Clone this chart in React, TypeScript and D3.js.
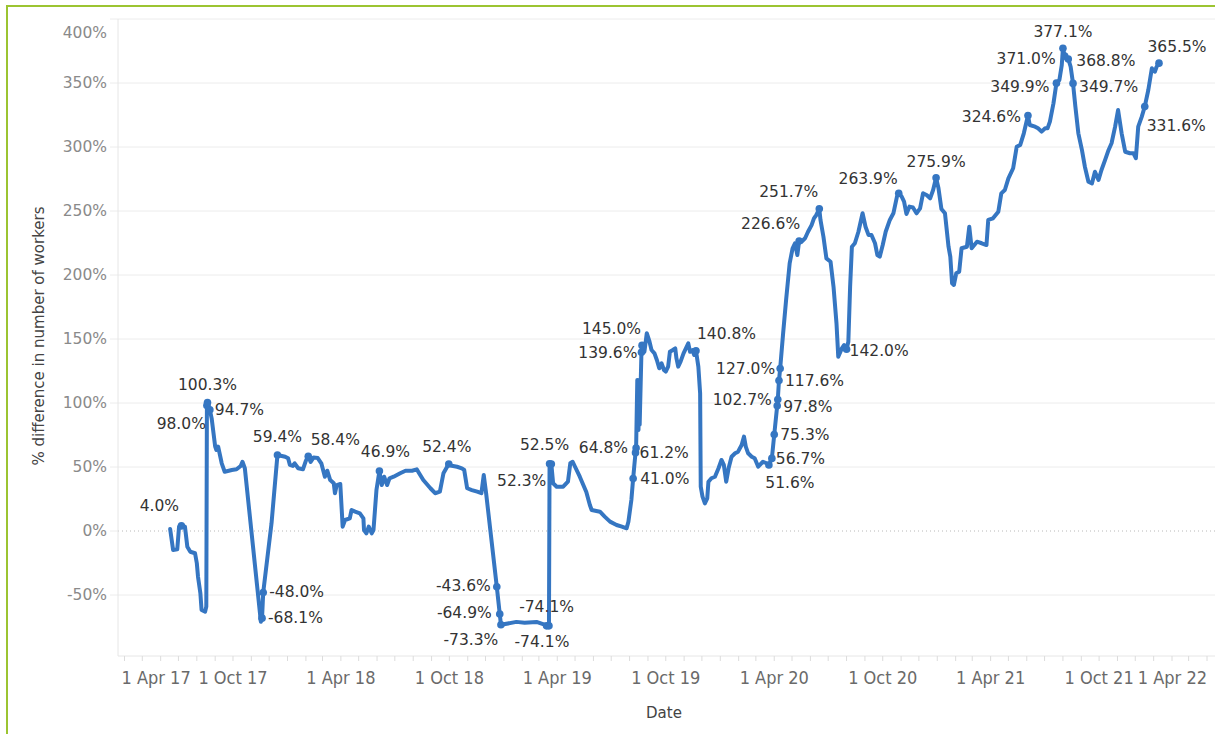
import React from 'react';
import * as d3 from 'd3';

const dates = [
  "2017-06-17","2017-06-22","2017-06-29","2017-07-02","2017-07-06","2017-07-12","2017-07-16","2017-07-21","2017-07-29","2017-08-01",
  "2017-08-03","2017-08-07","2017-08-09","2017-08-15","2017-08-17","2017-08-18","2017-08-19","2017-08-23","2017-08-26","2017-09-01",
  "2017-09-03","2017-09-06","2017-09-09","2017-09-12","2017-09-17","2017-09-29","2017-10-07","2017-10-14","2017-10-17","2017-10-21",
  "2017-11-17","2017-11-19","2017-11-21","2017-12-05","2017-12-15","2017-12-28","2018-01-02","2018-01-05","2018-01-10","2018-01-13",
  "2018-01-19","2018-01-27","2018-02-01","2018-02-05","2018-02-09","2018-02-14","2018-02-21","2018-02-27","2018-03-05","2018-03-09",
  "2018-03-14","2018-03-20","2018-03-22","2018-03-25","2018-03-31","2018-04-04","2018-04-08","2018-04-16","2018-04-19","2018-04-25",
  "2018-05-03","2018-05-09","2018-05-10","2018-05-14","2018-05-18","2018-05-23","2018-05-26","2018-05-31","2018-06-05","2018-06-09",
  "2018-06-13","2018-06-18","2018-06-22","2018-06-29","2018-07-10","2018-07-19","2018-07-30","2018-08-07","2018-08-11","2018-08-18",
  "2018-08-30","2018-09-07","2018-09-15","2018-09-21","2018-09-27","2018-09-30","2018-10-05","2018-10-14","2018-10-22","2018-10-26",
  "2018-10-31","2018-11-08","2018-11-17","2018-11-24","2018-11-28","2018-12-02","2018-12-20","2018-12-25","2018-12-27","2019-01-22",
  "2019-02-05","2019-02-25","2019-03-08","2019-03-14","2019-03-18","2019-03-19","2019-03-22","2019-03-25","2019-03-31","2019-04-11",
  "2019-04-19","2019-04-23","2019-04-27","2019-05-01","2019-05-09","2019-05-20","2019-05-26","2019-05-29","2019-06-12","2019-06-20",
  "2019-06-29","2019-07-10","2019-07-19","2019-07-27","2019-07-30","2019-08-04","2019-08-07","2019-08-11","2019-08-12","2019-08-14",
  "2019-08-16","2019-08-17","2019-08-18","2019-08-21","2019-08-22","2019-08-26","2019-08-30","2019-09-03","2019-09-07","2019-09-12",
  "2019-09-16","2019-09-20","2019-09-24","2019-09-28","2019-10-01","2019-10-05","2019-10-08","2019-10-13","2019-10-17","2019-10-19",
  "2019-10-22","2019-10-26","2019-10-31","2019-11-04","2019-11-08","2019-11-11","2019-11-15","2019-11-18","2019-11-21","2019-11-25",
  "2019-11-28","2019-11-29","2019-12-02","2019-12-06","2019-12-10","2019-12-12","2019-12-17","2019-12-23","2019-12-29","2020-01-03",
  "2020-01-07","2020-01-11","2020-01-15","2020-01-20","2020-01-26","2020-01-31","2020-02-06","2020-02-10","2020-02-13","2020-02-17",
  "2020-02-23","2020-02-28","2020-03-05","2020-03-13","2020-03-19","2020-03-23","2020-03-28","2020-04-01","2020-04-06","2020-04-07",
  "2020-04-09","2020-04-11","2020-04-16","2020-04-21","2020-04-27","2020-05-02","2020-05-06","2020-05-10","2020-05-13","2020-05-17",
  "2020-05-23","2020-05-28","2020-06-03","2020-06-07","2020-06-11","2020-06-16","2020-06-18","2020-06-23","2020-06-28","2020-07-05",
  "2020-07-10","2020-07-15","2020-07-18","2020-07-24","2020-07-28","2020-08-01","2020-08-04","2020-08-07","2020-08-10","2020-08-15",
  "2020-08-21","2020-08-28","2020-09-02","2020-09-07","2020-09-12","2020-09-18","2020-09-22","2020-09-26","2020-10-01","2020-10-06",
  "2020-10-13","2020-10-19","2020-10-25","2020-10-28","2020-11-02","2020-11-06","2020-11-10","2020-11-15","2020-11-21","2020-11-27",
  "2020-12-03","2020-12-08","2020-12-14","2020-12-20","2020-12-25","2020-12-30","2021-01-03","2021-01-08","2021-01-14","2021-01-20",
  "2021-01-23","2021-01-26","2021-01-29","2021-02-02","2021-02-07","2021-02-11","2021-02-20","2021-02-24","2021-02-28","2021-03-09",
  "2021-03-17","2021-03-25","2021-03-28","2021-04-05","2021-04-14","2021-04-19","2021-04-25","2021-05-01","2021-05-09","2021-05-15",
  "2021-05-21","2021-05-27","2021-06-03","2021-06-06","2021-06-15","2021-06-20","2021-06-26","2021-07-02","2021-07-06","2021-07-10",
  "2021-07-16","2021-07-21","2021-07-26","2021-07-30","2021-08-01","2021-08-04","2021-08-10","2021-08-14","2021-08-18","2021-08-22",
  "2021-08-27","2021-09-02","2021-09-07","2021-09-13","2021-09-19","2021-09-24","2021-09-30","2021-10-05","2021-10-11","2021-10-17",
  "2021-10-22","2021-10-28","2021-11-02","2021-11-08","2021-11-14","2021-11-22","2021-11-28","2021-12-02","2021-12-06","2021-12-12",
  "2021-12-17","2021-12-23","2021-12-29","2022-01-03","2022-01-06","2022-01-10",
];

const values = [
  1.5,-14.8,-14.3,3.4,4.0,3.4,-12.3,-16.2,-17.4,-25.2,
  -35.7,-48.7,-61.7,-63.0,-59.0,98.0,100.3,94.7,88.0,65.9,
  63.3,65.9,59.4,52.9,46.3,47.7,48.2,50.8,54.1,49.0,
  -70.9,-68.1,-48.0,6.0,59.4,58.0,56.8,51.6,50.8,52.9,
  49.0,48.2,55.0,58.4,54.0,57.5,57.0,52.9,42.4,47.1,
  39.8,37.3,29.5,35.9,36.7,3.4,8.6,9.9,16.4,15.1,
  13.8,9.9,0.8,-1.8,3.4,-1.8,0.8,32.0,46.9,35.9,
  42.4,35.9,41.2,42.4,45.1,47.1,47.1,48.2,45.1,39.8,
  33.4,29.5,30.7,45.1,50.0,52.4,51.0,50.2,49.0,47.7,
  33.4,32.0,30.7,29.5,43.8,29.5,-43.6,-64.9,-73.3,-71.0,
  -71.6,-71.0,-72.7,-74.1,-74.1,52.5,52.3,37.3,34.6,34.6,
  38.5,52.9,54.1,50.2,42.4,30.5,20.3,16.4,15.1,11.2,
  7.3,4.7,3.4,2.1,7.3,24.2,41.0,61.2,64.8,118.0,
  79.0,118.0,83.0,139.6,145.0,140.0,154.5,149.0,141.4,138.8,
  133.6,127.1,131.0,125.8,124.5,128.4,140.0,141.4,142.7,135.0,
  128.4,132.3,138.8,142.7,146.6,140.0,141.4,137.5,140.8,128.4,
  107.6,34.6,26.8,21.6,25.5,38.5,41.2,42.4,49.0,55.5,
  51.6,38.5,49.0,58.0,60.7,62.0,67.2,73.7,65.9,60.7,
  58.0,56.8,50.2,54.1,52.9,51.6,56.7,75.3,97.8,102.7,
  117.6,127.0,154.5,180.5,209.1,220.9,224.8,215.6,226.6,226.0,
  228.7,233.8,239.0,244.3,246.9,251.7,243.0,229.9,213.0,210.4,
  190.9,162.3,136.2,142.7,145.3,142.0,147.9,190.9,222.1,224.8,
  233.8,248.2,237.7,231.3,231.3,224.8,215.6,214.3,223.4,233.8,
  243.0,248.2,261.2,263.9,261.2,257.3,247.7,253.4,252.7,248.2,
  252.1,263.8,262.5,259.9,266.4,275.9,268.0,251.6,248.2,222.1,
  214.3,193.5,192.2,201.3,202.6,220.9,222.1,237.7,220.9,226.0,
  224.8,223.4,243.0,244.3,249.5,263.8,266.4,275.5,283.4,300.2,
  301.6,310.7,324.6,317.2,315.9,314.6,312.0,314.6,314.6,319.8,
  334.1,349.9,352.3,364.0,377.1,371.0,368.8,362.7,349.7,331.5,
  310.7,297.7,284.6,272.9,271.6,280.7,274.2,282.0,289.8,297.7,
  302.9,315.9,328.9,310.7,296.3,295.1,295.1,291.2,315.9,323.7,
  331.6,344.5,361.5,358.8,362.7,365.5,
];

// points that carry a mark label
const labeledDates = [
  "2017-07-06","2017-08-18","2017-08-19","2017-08-23","2017-11-19","2017-11-21","2017-12-15","2018-02-05",
  "2018-06-05","2018-09-30","2018-12-20","2018-12-25","2018-12-27","2019-03-14","2019-03-18","2019-03-19",
  "2019-03-22","2019-08-07","2019-08-11","2019-08-12","2019-08-21","2019-08-22","2019-11-21","2020-03-23",
  "2020-03-28","2020-04-01","2020-04-06","2020-04-07","2020-04-09","2020-04-11","2020-05-13","2020-06-16",
  "2020-08-01","2020-10-28","2020-12-30","2021-06-03","2021-07-21","2021-08-01","2021-08-04","2021-08-10",
  "2021-08-18","2021-12-17","2022-01-10",
];

const xTickDates = [
  "2017-04-01","2017-10-01","2018-04-01","2018-10-01","2019-04-01","2019-10-01",
  "2020-04-01","2020-10-01","2021-04-01","2021-10-01","2022-04-01",
];
const yTicks = [-50, 0, 50, 100, 150, 200, 250, 300, 350, 400];

// label placement (layout only): [anchor, dx, dy]
const labelLayout: Record<string, [string, number, number]> = {
  "2017-07-06": ["middle", -22, -20],
  "2017-08-18": ["end", -1, 18],
  "2017-08-19": ["middle", 0, -18],
  "2017-08-23": ["start", 5, 0],
  "2017-11-19": ["start", 6, -1],
  "2017-11-21": ["start", 6, -1],
  "2017-12-15": ["middle", 0, -18],
  "2018-02-05": ["middle", 27, -17],
  "2018-06-05": ["middle", 6, -19],
  "2018-09-30": ["middle", -2, -17],
  "2018-12-20": ["end", -6, -1],
  "2018-12-25": ["end", -8, -1],
  "2018-12-27": ["middle", -30, 15],
  "2019-03-14": ["middle", 0, -19],
  "2019-03-18": ["middle", -7, 16],
  "2019-03-19": ["middle", -5, -19],
  "2019-03-22": ["end", -5, 17],
  "2019-08-07": ["start", 7, 0],
  "2019-08-11": ["start", 4, 0],
  "2019-08-12": ["end", -8, 0],
  "2019-08-21": ["end", -4, 0],
  "2019-08-22": ["end", -1, -17],
  "2019-11-21": ["start", 1, -17],
  "2020-03-23": ["middle", 21, 18],
  "2020-03-28": ["start", 4, 0],
  "2020-04-01": ["start", 6, 0],
  "2020-04-06": ["start", 6, 1],
  "2020-04-07": ["end", -6, 0],
  "2020-04-09": ["start", 6, 0],
  "2020-04-11": ["end", -5, 0],
  "2020-05-13": ["end", 1, -17],
  "2020-06-16": ["end", -1, -17],
  "2020-08-01": ["start", 3, 1],
  "2020-10-28": ["end", -1, -15],
  "2020-12-30": ["middle", 0, -16],
  "2021-06-03": ["end", -7, 1],
  "2021-07-21": ["end", -7, 3],
  "2021-08-01": ["middle", 0, -17],
  "2021-08-04": ["end", -9, 2],
  "2021-08-10": ["start", 8, 2],
  "2021-08-18": ["start", 6, 3],
  "2021-12-17": ["start", 2, 19],
  "2022-01-10": ["middle", 18, -17],
};

const FONT = "'DejaVu Sans', sans-serif";
const NARROW = "'Liberation Sans Narrow', 'DejaVu Sans Condensed', sans-serif";

export default function App() {
  const W = 1215, H = 734;
  const parse = d3.utcParse("%Y-%m-%d");
  const start = parse("2017-04-01") as Date;
  const end = parse("2022-04-01") as Date;
  const x = d3.scaleUtc().domain([start, end]).range([124.5, 1207]);
  const y = d3.scaleLinear().domain([0, 400]).range([531, 19]);
  const plotLeft = 118, plotRight = 1215, plotTop = 19, plotBottom = 656;

  const data = dates.map((d, i) => ({ key: d, date: parse(d) as Date, value: values[i] }));
  const line = d3.line<{ date: Date; value: number }>()
    .x(d => x(d.date))
    .y(d => y(d.value));
  const labeled = data.filter(d => labeledDates.includes(d.key));
  const fmt = (v: number) => v.toFixed(1) + "%";
  const months = d3.utcMonth.range(start, d3.utcDay.offset(end, 1));
  const tickFmt = d3.utcFormat("%-d %b %y");

  return (
    <svg width={W} height={H} style={{ position: 'absolute', left: 0, top: 0, background: '#fff' }}>
      <rect x={7} y={6} width={W + 20} height={H + 20} fill="#fff" stroke="#9cc431" strokeWidth={2} />
      {/* gridlines */}
      {yTicks.filter(t => t !== 0).map(t => (
        <line key={t} x1={110} x2={plotRight} y1={y(t)} y2={y(t)} stroke="#ececec" strokeWidth={1} />
      ))}
      <line x1={110} x2={plotLeft} y1={y(0)} y2={y(0)} stroke="#ececec" />
      <line x1={plotLeft} x2={plotRight} y1={y(0)} y2={y(0)} stroke="#b8b8b8" strokeWidth={1} strokeDasharray="1,3" />
      {/* axes */}
      <line x1={plotLeft} x2={plotLeft} y1={plotTop} y2={plotBottom} stroke="#e6e6e6" />
      <line x1={plotLeft} x2={plotRight} y1={plotBottom} y2={plotBottom} stroke="#e6e6e6" />
      {months.map(m => (
        <line key={+m} x1={x(m)} x2={x(m)} y1={plotBottom} y2={plotBottom + 5} stroke="#dcdcdc" />
      ))}
      {yTicks.map(t => (
        <text key={t} x={107} y={Math.max(y(t), 33)} dy="0.35em" textAnchor="end"
          fontFamily={FONT} fontSize={15.5} fill="#8a8a8a">{t}%</text>
      ))}
      {xTickDates.map((s, i) => {
        const d = parse(s) as Date;
        const first = i === 0, last = i === xTickDates.length - 1;
        const anchor = first ? 'start' : last ? 'end' : 'middle';
        const xx = first ? x(d) - 3 : x(d);
        return (
          <text key={s} x={xx} y={678} dy="0.35em" textAnchor={anchor}
            fontFamily={NARROW} fontSize={18} fill="#6a6a6a">{tickFmt(d)}</text>
        );
      })}
      <text x={664} y={713} dy="0.35em" textAnchor="middle" fontFamily={FONT} fontSize={15} fill="#444">Date</text>
      <text transform={`translate(39,336) rotate(-90)`} dy="0.35em" textAnchor="middle"
        fontFamily={FONT} fontSize={15} fill="#444">% difference in number of workers</text>
      {/* line */}
      <path d={line(data) || ''} fill="none" stroke="#3576c2" strokeWidth={4}
        strokeLinejoin="round" strokeLinecap="round" />
      {labeled.map(d => (
        <circle key={'c' + d.key} cx={x(d.date)} cy={y(d.value)} r={3.8} fill="#3576c2" />
      ))}
      {labeled.map(d => {
        const [anchor, dx, dy] = labelLayout[d.key] || ["middle", 0, -16];
        return (
          <text key={'t' + d.key} x={x(d.date) + dx} y={y(d.value) + dy} dy="0.35em"
            textAnchor={anchor} fontFamily={FONT} fontSize={15.5} fill="#333">{fmt(d.value)}</text>
        );
      })}
    </svg>
  );
}
